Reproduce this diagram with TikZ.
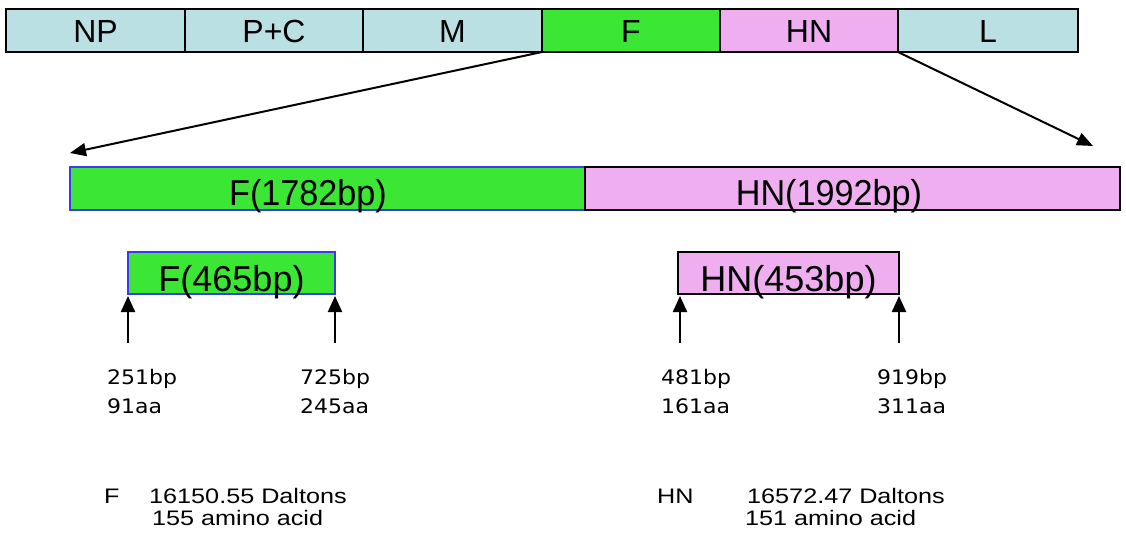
\documentclass[tikz,border=0pt]{standalone}
\usepackage{fontspec}
\setmainfont{Liberation Sans}
\newfontfamily\narrowfont[FakeStretch=0.95]{Liberation Sans}
\newfontfamily\wideinfo[FakeStretch=1.2]{Liberation Sans}
\newfontfamily\numfont[FakeStretch=1.1]{DejaVu Sans}
\usetikzlibrary{arrows.meta}
\definecolor{segblue}{HTML}{BBE0E3}
\definecolor{seggreen}{HTML}{3CE635}
\definecolor{segpink}{HTML}{EEAEF0}
\definecolor{fborder}{HTML}{3A3AF0}
\tikzset{
  seg/.style={draw=black, line width=1.2pt, rectangle, anchor=north west, inner sep=0pt, outer sep=0pt,
    minimum height=43pt, text height=33pt, text depth=10pt, font=\fontsize{32}{36}\selectfont},
  big/.style={rectangle, anchor=north west, inner sep=0pt, outer sep=0pt, line width=1.2pt,
    minimum height=43pt},
  bigtext/.style={anchor=base, inner sep=0pt, font=\narrowfont\fontsize{36}{40}\selectfont},
  small/.style={rectangle, anchor=north west, inner sep=0pt, outer sep=0pt, line width=1.2pt,
    minimum height=42pt, text height=39pt, text depth=3pt, font=\fontsize{36}{40}\selectfont},
  arr/.style={line width=2.2pt, -{Triangle[length=16pt,width=14pt]}, shorten >=2pt},
  darr/.style={line width=2pt, -{Triangle[length=16pt,width=13pt]}},
  lab/.style={align=left, anchor=base west, inner sep=0pt, font=\numfont\fontsize{20}{29}\selectfont},
  info/.style={anchor=base west, inner sep=0pt, font=\wideinfo\fontsize{21}{22}\selectfont},
}
\begin{document}
\begin{tikzpicture}[x=1pt,y=-1pt]
\useasboundingbox (0,0) rectangle (1126,536);
% top genome bar
\node[seg, fill=segblue, minimum width=179pt] (np) at (6,9) {NP};
\node[seg, fill=segblue, minimum width=178pt] (pc) at (185,9) {P+C};
\node[seg, fill=segblue, minimum width=179pt] (m) at (363,9) {M};
\node[seg, fill=seggreen, minimum width=178pt] (f) at (542,9) {F};
\node[seg, fill=segpink, minimum width=178pt] (hn) at (720,9) {HN};
\node[seg, fill=segblue, minimum width=180pt] (l) at (898,9) {L};
% zoom arrows
\coordinate (zl) at (70,153);
\coordinate (zr) at (1093,146);
\draw[darr] (f.south west) -- (zl);
\draw[darr] (l.south west) -- (zr);
% middle bar
\node[big, draw=fborder, fill=seggreen, minimum width=515pt] (f2) at (70,167) {};
\node[big, draw=black, fill=segpink, minimum width=535pt] (hn2) at (585,167) {};
\node[bigtext] (f2t) at (308,205) {F(1782bp)};
\node[bigtext] (hn2t) at (829,205) {HN(1992bp)};
% fragments
\node[small, draw=fborder, fill=seggreen, minimum width=207pt] (f3) at (128,252) {F(465bp)};
\node[small, draw=black, fill=segpink, minimum width=221pt] (hn3) at (678,252) {HN(453bp)};
% position arrows
\coordinate (a1) at (128,343);
\coordinate (a2) at (335,343);
\coordinate (a3) at (680,343);
\coordinate (a4) at (899,343);
\coordinate (t3) at (680,294);
\draw[arr] (a1) -- (f3.south west);
\draw[arr] (a2) -- (f3.south east);
\draw[arr] (a3) -- (t3);
\draw[arr] (a4) -- (hn3.south east);
% labels
\node[lab] (l1a) at (107,384) {251bp};
\node[lab] (l1b) at (107,413) {91aa};
\node[lab] (l2a) at (300,384) {725bp};
\node[lab] (l2b) at (300,413) {245aa};
\node[lab] (l3a) at (661,384) {481bp};
\node[lab] (l3b) at (661,413) {161aa};
\node[lab] (l4a) at (877,384) {919bp};
\node[lab] (l4b) at (877,413) {311aa};
% bottom info
\node[info] (fi) at (104,503) {F};
\node[info] (fd) at (149,503) {16150.55 Daltons};
\node[info] (fa) at (152,525) {155 amino acid};
\node[info] (hi) at (657,503) {HN};
\node[info] (hd) at (747,503) {16572.47 Daltons};
\node[info] (ha) at (745,525) {151 amino acid};
\end{tikzpicture}
\end{document}
